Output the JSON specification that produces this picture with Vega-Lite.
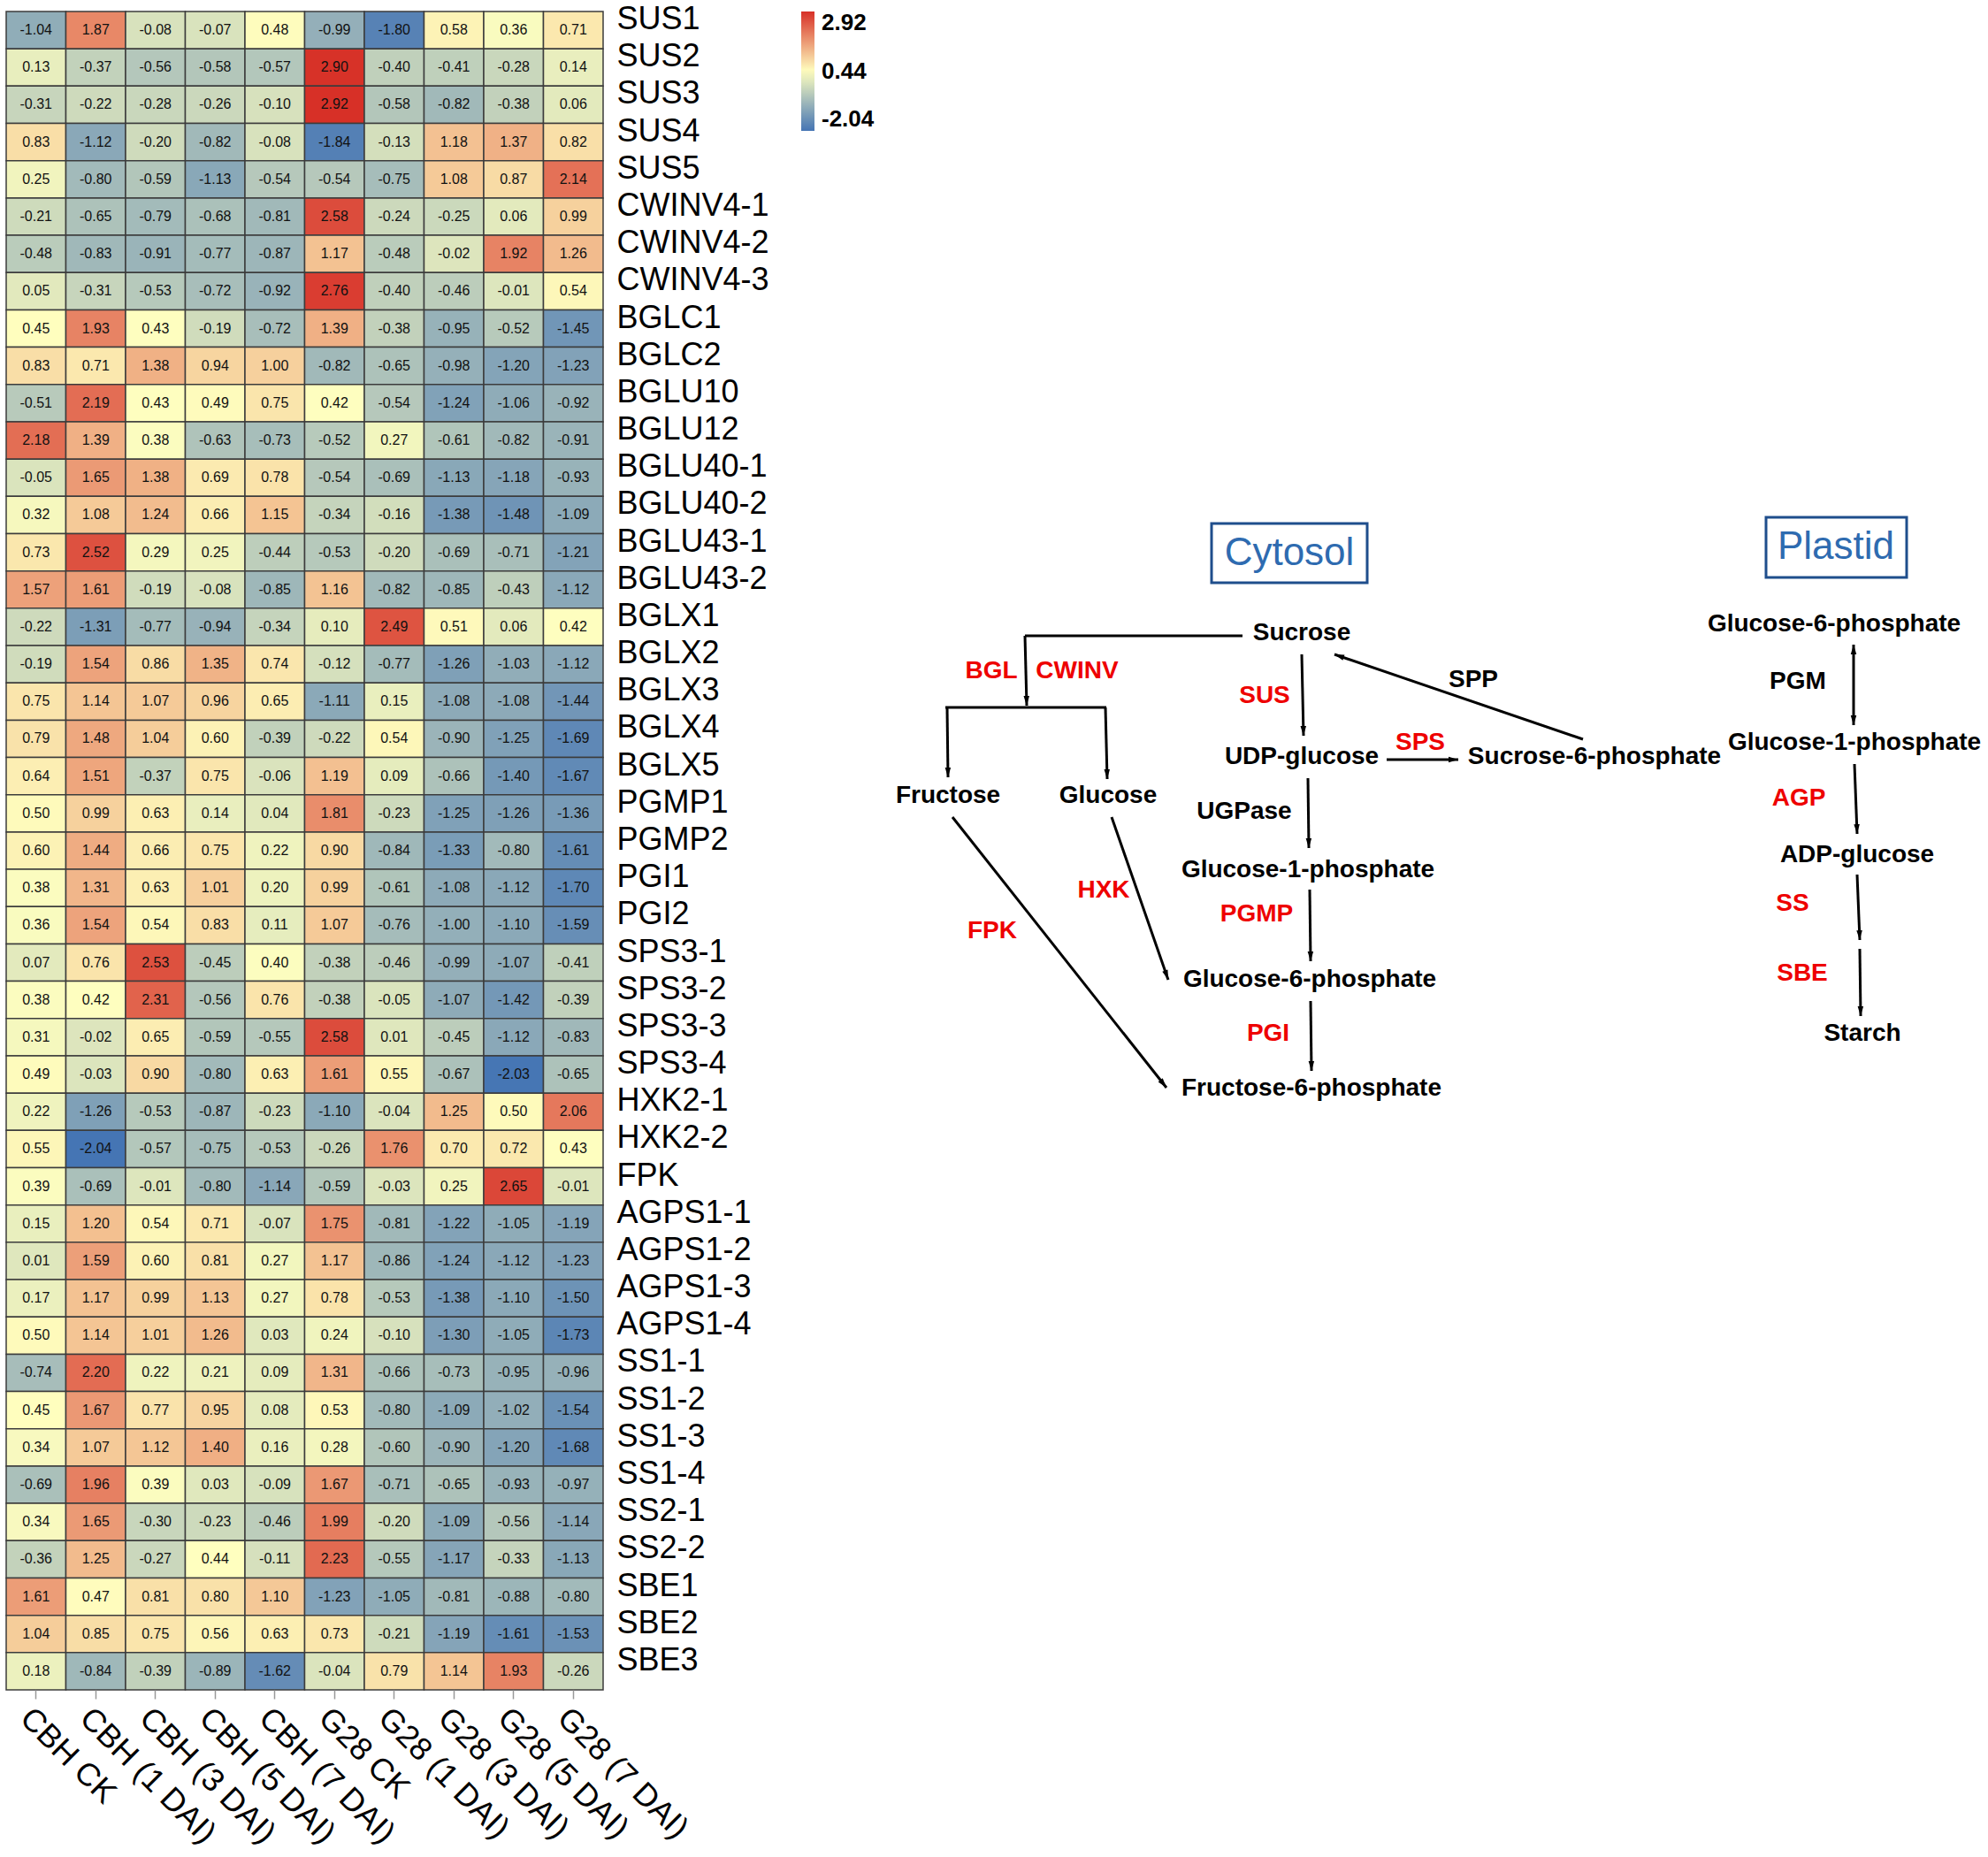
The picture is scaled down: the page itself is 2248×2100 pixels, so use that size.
{
"$schema": "https://vega.github.io/schema/vega-lite/v6.json",
"background": "white",
"padding": {"left": 6, "top": 3, "right": 0, "bottom": 0},
"bounds": "flush",
"spacing": 319,
"config": {"view": {"stroke": null}, "font": "Liberation Sans"},
"hconcat": [
{
"width": 675, "height": 1898,
"data": {"values": [
{"g":"SUS1","c":"CBH CK","v":-1.04},{"g":"SUS1","c":"CBH (1 DAI)","v":1.87},{"g":"SUS1","c":"CBH (3 DAI)","v":-0.08},{"g":"SUS1","c":"CBH (5 DAI)","v":-0.07},{"g":"SUS1","c":"CBH (7 DAI)","v":0.48},{"g":"SUS1","c":"G28 CK","v":-0.99},{"g":"SUS1","c":"G28 (1 DAI)","v":-1.80},{"g":"SUS1","c":"G28 (3 DAI)","v":0.58},{"g":"SUS1","c":"G28 (5 DAI)","v":0.36},{"g":"SUS1","c":"G28 (7 DAI)","v":0.71},
{"g":"SUS2","c":"CBH CK","v":0.13},{"g":"SUS2","c":"CBH (1 DAI)","v":-0.37},{"g":"SUS2","c":"CBH (3 DAI)","v":-0.56},{"g":"SUS2","c":"CBH (5 DAI)","v":-0.58},{"g":"SUS2","c":"CBH (7 DAI)","v":-0.57},{"g":"SUS2","c":"G28 CK","v":2.90},{"g":"SUS2","c":"G28 (1 DAI)","v":-0.40},{"g":"SUS2","c":"G28 (3 DAI)","v":-0.41},{"g":"SUS2","c":"G28 (5 DAI)","v":-0.28},{"g":"SUS2","c":"G28 (7 DAI)","v":0.14},
{"g":"SUS3","c":"CBH CK","v":-0.31},{"g":"SUS3","c":"CBH (1 DAI)","v":-0.22},{"g":"SUS3","c":"CBH (3 DAI)","v":-0.28},{"g":"SUS3","c":"CBH (5 DAI)","v":-0.26},{"g":"SUS3","c":"CBH (7 DAI)","v":-0.10},{"g":"SUS3","c":"G28 CK","v":2.92},{"g":"SUS3","c":"G28 (1 DAI)","v":-0.58},{"g":"SUS3","c":"G28 (3 DAI)","v":-0.82},{"g":"SUS3","c":"G28 (5 DAI)","v":-0.38},{"g":"SUS3","c":"G28 (7 DAI)","v":0.06},
{"g":"SUS4","c":"CBH CK","v":0.83},{"g":"SUS4","c":"CBH (1 DAI)","v":-1.12},{"g":"SUS4","c":"CBH (3 DAI)","v":-0.20},{"g":"SUS4","c":"CBH (5 DAI)","v":-0.82},{"g":"SUS4","c":"CBH (7 DAI)","v":-0.08},{"g":"SUS4","c":"G28 CK","v":-1.84},{"g":"SUS4","c":"G28 (1 DAI)","v":-0.13},{"g":"SUS4","c":"G28 (3 DAI)","v":1.18},{"g":"SUS4","c":"G28 (5 DAI)","v":1.37},{"g":"SUS4","c":"G28 (7 DAI)","v":0.82},
{"g":"SUS5","c":"CBH CK","v":0.25},{"g":"SUS5","c":"CBH (1 DAI)","v":-0.80},{"g":"SUS5","c":"CBH (3 DAI)","v":-0.59},{"g":"SUS5","c":"CBH (5 DAI)","v":-1.13},{"g":"SUS5","c":"CBH (7 DAI)","v":-0.54},{"g":"SUS5","c":"G28 CK","v":-0.54},{"g":"SUS5","c":"G28 (1 DAI)","v":-0.75},{"g":"SUS5","c":"G28 (3 DAI)","v":1.08},{"g":"SUS5","c":"G28 (5 DAI)","v":0.87},{"g":"SUS5","c":"G28 (7 DAI)","v":2.14},
{"g":"CWINV4-1","c":"CBH CK","v":-0.21},{"g":"CWINV4-1","c":"CBH (1 DAI)","v":-0.65},{"g":"CWINV4-1","c":"CBH (3 DAI)","v":-0.79},{"g":"CWINV4-1","c":"CBH (5 DAI)","v":-0.68},{"g":"CWINV4-1","c":"CBH (7 DAI)","v":-0.81},{"g":"CWINV4-1","c":"G28 CK","v":2.58},{"g":"CWINV4-1","c":"G28 (1 DAI)","v":-0.24},{"g":"CWINV4-1","c":"G28 (3 DAI)","v":-0.25},{"g":"CWINV4-1","c":"G28 (5 DAI)","v":0.06},{"g":"CWINV4-1","c":"G28 (7 DAI)","v":0.99},
{"g":"CWINV4-2","c":"CBH CK","v":-0.48},{"g":"CWINV4-2","c":"CBH (1 DAI)","v":-0.83},{"g":"CWINV4-2","c":"CBH (3 DAI)","v":-0.91},{"g":"CWINV4-2","c":"CBH (5 DAI)","v":-0.77},{"g":"CWINV4-2","c":"CBH (7 DAI)","v":-0.87},{"g":"CWINV4-2","c":"G28 CK","v":1.17},{"g":"CWINV4-2","c":"G28 (1 DAI)","v":-0.48},{"g":"CWINV4-2","c":"G28 (3 DAI)","v":-0.02},{"g":"CWINV4-2","c":"G28 (5 DAI)","v":1.92},{"g":"CWINV4-2","c":"G28 (7 DAI)","v":1.26},
{"g":"CWINV4-3","c":"CBH CK","v":0.05},{"g":"CWINV4-3","c":"CBH (1 DAI)","v":-0.31},{"g":"CWINV4-3","c":"CBH (3 DAI)","v":-0.53},{"g":"CWINV4-3","c":"CBH (5 DAI)","v":-0.72},{"g":"CWINV4-3","c":"CBH (7 DAI)","v":-0.92},{"g":"CWINV4-3","c":"G28 CK","v":2.76},{"g":"CWINV4-3","c":"G28 (1 DAI)","v":-0.40},{"g":"CWINV4-3","c":"G28 (3 DAI)","v":-0.46},{"g":"CWINV4-3","c":"G28 (5 DAI)","v":-0.01},{"g":"CWINV4-3","c":"G28 (7 DAI)","v":0.54},
{"g":"BGLC1","c":"CBH CK","v":0.45},{"g":"BGLC1","c":"CBH (1 DAI)","v":1.93},{"g":"BGLC1","c":"CBH (3 DAI)","v":0.43},{"g":"BGLC1","c":"CBH (5 DAI)","v":-0.19},{"g":"BGLC1","c":"CBH (7 DAI)","v":-0.72},{"g":"BGLC1","c":"G28 CK","v":1.39},{"g":"BGLC1","c":"G28 (1 DAI)","v":-0.38},{"g":"BGLC1","c":"G28 (3 DAI)","v":-0.95},{"g":"BGLC1","c":"G28 (5 DAI)","v":-0.52},{"g":"BGLC1","c":"G28 (7 DAI)","v":-1.45},
{"g":"BGLC2","c":"CBH CK","v":0.83},{"g":"BGLC2","c":"CBH (1 DAI)","v":0.71},{"g":"BGLC2","c":"CBH (3 DAI)","v":1.38},{"g":"BGLC2","c":"CBH (5 DAI)","v":0.94},{"g":"BGLC2","c":"CBH (7 DAI)","v":1.00},{"g":"BGLC2","c":"G28 CK","v":-0.82},{"g":"BGLC2","c":"G28 (1 DAI)","v":-0.65},{"g":"BGLC2","c":"G28 (3 DAI)","v":-0.98},{"g":"BGLC2","c":"G28 (5 DAI)","v":-1.20},{"g":"BGLC2","c":"G28 (7 DAI)","v":-1.23},
{"g":"BGLU10","c":"CBH CK","v":-0.51},{"g":"BGLU10","c":"CBH (1 DAI)","v":2.19},{"g":"BGLU10","c":"CBH (3 DAI)","v":0.43},{"g":"BGLU10","c":"CBH (5 DAI)","v":0.49},{"g":"BGLU10","c":"CBH (7 DAI)","v":0.75},{"g":"BGLU10","c":"G28 CK","v":0.42},{"g":"BGLU10","c":"G28 (1 DAI)","v":-0.54},{"g":"BGLU10","c":"G28 (3 DAI)","v":-1.24},{"g":"BGLU10","c":"G28 (5 DAI)","v":-1.06},{"g":"BGLU10","c":"G28 (7 DAI)","v":-0.92},
{"g":"BGLU12","c":"CBH CK","v":2.18},{"g":"BGLU12","c":"CBH (1 DAI)","v":1.39},{"g":"BGLU12","c":"CBH (3 DAI)","v":0.38},{"g":"BGLU12","c":"CBH (5 DAI)","v":-0.63},{"g":"BGLU12","c":"CBH (7 DAI)","v":-0.73},{"g":"BGLU12","c":"G28 CK","v":-0.52},{"g":"BGLU12","c":"G28 (1 DAI)","v":0.27},{"g":"BGLU12","c":"G28 (3 DAI)","v":-0.61},{"g":"BGLU12","c":"G28 (5 DAI)","v":-0.82},{"g":"BGLU12","c":"G28 (7 DAI)","v":-0.91},
{"g":"BGLU40-1","c":"CBH CK","v":-0.05},{"g":"BGLU40-1","c":"CBH (1 DAI)","v":1.65},{"g":"BGLU40-1","c":"CBH (3 DAI)","v":1.38},{"g":"BGLU40-1","c":"CBH (5 DAI)","v":0.69},{"g":"BGLU40-1","c":"CBH (7 DAI)","v":0.78},{"g":"BGLU40-1","c":"G28 CK","v":-0.54},{"g":"BGLU40-1","c":"G28 (1 DAI)","v":-0.69},{"g":"BGLU40-1","c":"G28 (3 DAI)","v":-1.13},{"g":"BGLU40-1","c":"G28 (5 DAI)","v":-1.18},{"g":"BGLU40-1","c":"G28 (7 DAI)","v":-0.93},
{"g":"BGLU40-2","c":"CBH CK","v":0.32},{"g":"BGLU40-2","c":"CBH (1 DAI)","v":1.08},{"g":"BGLU40-2","c":"CBH (3 DAI)","v":1.24},{"g":"BGLU40-2","c":"CBH (5 DAI)","v":0.66},{"g":"BGLU40-2","c":"CBH (7 DAI)","v":1.15},{"g":"BGLU40-2","c":"G28 CK","v":-0.34},{"g":"BGLU40-2","c":"G28 (1 DAI)","v":-0.16},{"g":"BGLU40-2","c":"G28 (3 DAI)","v":-1.38},{"g":"BGLU40-2","c":"G28 (5 DAI)","v":-1.48},{"g":"BGLU40-2","c":"G28 (7 DAI)","v":-1.09},
{"g":"BGLU43-1","c":"CBH CK","v":0.73},{"g":"BGLU43-1","c":"CBH (1 DAI)","v":2.52},{"g":"BGLU43-1","c":"CBH (3 DAI)","v":0.29},{"g":"BGLU43-1","c":"CBH (5 DAI)","v":0.25},{"g":"BGLU43-1","c":"CBH (7 DAI)","v":-0.44},{"g":"BGLU43-1","c":"G28 CK","v":-0.53},{"g":"BGLU43-1","c":"G28 (1 DAI)","v":-0.20},{"g":"BGLU43-1","c":"G28 (3 DAI)","v":-0.69},{"g":"BGLU43-1","c":"G28 (5 DAI)","v":-0.71},{"g":"BGLU43-1","c":"G28 (7 DAI)","v":-1.21},
{"g":"BGLU43-2","c":"CBH CK","v":1.57},{"g":"BGLU43-2","c":"CBH (1 DAI)","v":1.61},{"g":"BGLU43-2","c":"CBH (3 DAI)","v":-0.19},{"g":"BGLU43-2","c":"CBH (5 DAI)","v":-0.08},{"g":"BGLU43-2","c":"CBH (7 DAI)","v":-0.85},{"g":"BGLU43-2","c":"G28 CK","v":1.16},{"g":"BGLU43-2","c":"G28 (1 DAI)","v":-0.82},{"g":"BGLU43-2","c":"G28 (3 DAI)","v":-0.85},{"g":"BGLU43-2","c":"G28 (5 DAI)","v":-0.43},{"g":"BGLU43-2","c":"G28 (7 DAI)","v":-1.12},
{"g":"BGLX1","c":"CBH CK","v":-0.22},{"g":"BGLX1","c":"CBH (1 DAI)","v":-1.31},{"g":"BGLX1","c":"CBH (3 DAI)","v":-0.77},{"g":"BGLX1","c":"CBH (5 DAI)","v":-0.94},{"g":"BGLX1","c":"CBH (7 DAI)","v":-0.34},{"g":"BGLX1","c":"G28 CK","v":0.10},{"g":"BGLX1","c":"G28 (1 DAI)","v":2.49},{"g":"BGLX1","c":"G28 (3 DAI)","v":0.51},{"g":"BGLX1","c":"G28 (5 DAI)","v":0.06},{"g":"BGLX1","c":"G28 (7 DAI)","v":0.42},
{"g":"BGLX2","c":"CBH CK","v":-0.19},{"g":"BGLX2","c":"CBH (1 DAI)","v":1.54},{"g":"BGLX2","c":"CBH (3 DAI)","v":0.86},{"g":"BGLX2","c":"CBH (5 DAI)","v":1.35},{"g":"BGLX2","c":"CBH (7 DAI)","v":0.74},{"g":"BGLX2","c":"G28 CK","v":-0.12},{"g":"BGLX2","c":"G28 (1 DAI)","v":-0.77},{"g":"BGLX2","c":"G28 (3 DAI)","v":-1.26},{"g":"BGLX2","c":"G28 (5 DAI)","v":-1.03},{"g":"BGLX2","c":"G28 (7 DAI)","v":-1.12},
{"g":"BGLX3","c":"CBH CK","v":0.75},{"g":"BGLX3","c":"CBH (1 DAI)","v":1.14},{"g":"BGLX3","c":"CBH (3 DAI)","v":1.07},{"g":"BGLX3","c":"CBH (5 DAI)","v":0.96},{"g":"BGLX3","c":"CBH (7 DAI)","v":0.65},{"g":"BGLX3","c":"G28 CK","v":-1.11},{"g":"BGLX3","c":"G28 (1 DAI)","v":0.15},{"g":"BGLX3","c":"G28 (3 DAI)","v":-1.08},{"g":"BGLX3","c":"G28 (5 DAI)","v":-1.08},{"g":"BGLX3","c":"G28 (7 DAI)","v":-1.44},
{"g":"BGLX4","c":"CBH CK","v":0.79},{"g":"BGLX4","c":"CBH (1 DAI)","v":1.48},{"g":"BGLX4","c":"CBH (3 DAI)","v":1.04},{"g":"BGLX4","c":"CBH (5 DAI)","v":0.60},{"g":"BGLX4","c":"CBH (7 DAI)","v":-0.39},{"g":"BGLX4","c":"G28 CK","v":-0.22},{"g":"BGLX4","c":"G28 (1 DAI)","v":0.54},{"g":"BGLX4","c":"G28 (3 DAI)","v":-0.90},{"g":"BGLX4","c":"G28 (5 DAI)","v":-1.25},{"g":"BGLX4","c":"G28 (7 DAI)","v":-1.69},
{"g":"BGLX5","c":"CBH CK","v":0.64},{"g":"BGLX5","c":"CBH (1 DAI)","v":1.51},{"g":"BGLX5","c":"CBH (3 DAI)","v":-0.37},{"g":"BGLX5","c":"CBH (5 DAI)","v":0.75},{"g":"BGLX5","c":"CBH (7 DAI)","v":-0.06},{"g":"BGLX5","c":"G28 CK","v":1.19},{"g":"BGLX5","c":"G28 (1 DAI)","v":0.09},{"g":"BGLX5","c":"G28 (3 DAI)","v":-0.66},{"g":"BGLX5","c":"G28 (5 DAI)","v":-1.40},{"g":"BGLX5","c":"G28 (7 DAI)","v":-1.67},
{"g":"PGMP1","c":"CBH CK","v":0.50},{"g":"PGMP1","c":"CBH (1 DAI)","v":0.99},{"g":"PGMP1","c":"CBH (3 DAI)","v":0.63},{"g":"PGMP1","c":"CBH (5 DAI)","v":0.14},{"g":"PGMP1","c":"CBH (7 DAI)","v":0.04},{"g":"PGMP1","c":"G28 CK","v":1.81},{"g":"PGMP1","c":"G28 (1 DAI)","v":-0.23},{"g":"PGMP1","c":"G28 (3 DAI)","v":-1.25},{"g":"PGMP1","c":"G28 (5 DAI)","v":-1.26},{"g":"PGMP1","c":"G28 (7 DAI)","v":-1.36},
{"g":"PGMP2","c":"CBH CK","v":0.60},{"g":"PGMP2","c":"CBH (1 DAI)","v":1.44},{"g":"PGMP2","c":"CBH (3 DAI)","v":0.66},{"g":"PGMP2","c":"CBH (5 DAI)","v":0.75},{"g":"PGMP2","c":"CBH (7 DAI)","v":0.22},{"g":"PGMP2","c":"G28 CK","v":0.90},{"g":"PGMP2","c":"G28 (1 DAI)","v":-0.84},{"g":"PGMP2","c":"G28 (3 DAI)","v":-1.33},{"g":"PGMP2","c":"G28 (5 DAI)","v":-0.80},{"g":"PGMP2","c":"G28 (7 DAI)","v":-1.61},
{"g":"PGI1","c":"CBH CK","v":0.38},{"g":"PGI1","c":"CBH (1 DAI)","v":1.31},{"g":"PGI1","c":"CBH (3 DAI)","v":0.63},{"g":"PGI1","c":"CBH (5 DAI)","v":1.01},{"g":"PGI1","c":"CBH (7 DAI)","v":0.20},{"g":"PGI1","c":"G28 CK","v":0.99},{"g":"PGI1","c":"G28 (1 DAI)","v":-0.61},{"g":"PGI1","c":"G28 (3 DAI)","v":-1.08},{"g":"PGI1","c":"G28 (5 DAI)","v":-1.12},{"g":"PGI1","c":"G28 (7 DAI)","v":-1.70},
{"g":"PGI2","c":"CBH CK","v":0.36},{"g":"PGI2","c":"CBH (1 DAI)","v":1.54},{"g":"PGI2","c":"CBH (3 DAI)","v":0.54},{"g":"PGI2","c":"CBH (5 DAI)","v":0.83},{"g":"PGI2","c":"CBH (7 DAI)","v":0.11},{"g":"PGI2","c":"G28 CK","v":1.07},{"g":"PGI2","c":"G28 (1 DAI)","v":-0.76},{"g":"PGI2","c":"G28 (3 DAI)","v":-1.00},{"g":"PGI2","c":"G28 (5 DAI)","v":-1.10},{"g":"PGI2","c":"G28 (7 DAI)","v":-1.59},
{"g":"SPS3-1","c":"CBH CK","v":0.07},{"g":"SPS3-1","c":"CBH (1 DAI)","v":0.76},{"g":"SPS3-1","c":"CBH (3 DAI)","v":2.53},{"g":"SPS3-1","c":"CBH (5 DAI)","v":-0.45},{"g":"SPS3-1","c":"CBH (7 DAI)","v":0.40},{"g":"SPS3-1","c":"G28 CK","v":-0.38},{"g":"SPS3-1","c":"G28 (1 DAI)","v":-0.46},{"g":"SPS3-1","c":"G28 (3 DAI)","v":-0.99},{"g":"SPS3-1","c":"G28 (5 DAI)","v":-1.07},{"g":"SPS3-1","c":"G28 (7 DAI)","v":-0.41},
{"g":"SPS3-2","c":"CBH CK","v":0.38},{"g":"SPS3-2","c":"CBH (1 DAI)","v":0.42},{"g":"SPS3-2","c":"CBH (3 DAI)","v":2.31},{"g":"SPS3-2","c":"CBH (5 DAI)","v":-0.56},{"g":"SPS3-2","c":"CBH (7 DAI)","v":0.76},{"g":"SPS3-2","c":"G28 CK","v":-0.38},{"g":"SPS3-2","c":"G28 (1 DAI)","v":-0.05},{"g":"SPS3-2","c":"G28 (3 DAI)","v":-1.07},{"g":"SPS3-2","c":"G28 (5 DAI)","v":-1.42},{"g":"SPS3-2","c":"G28 (7 DAI)","v":-0.39},
{"g":"SPS3-3","c":"CBH CK","v":0.31},{"g":"SPS3-3","c":"CBH (1 DAI)","v":-0.02},{"g":"SPS3-3","c":"CBH (3 DAI)","v":0.65},{"g":"SPS3-3","c":"CBH (5 DAI)","v":-0.59},{"g":"SPS3-3","c":"CBH (7 DAI)","v":-0.55},{"g":"SPS3-3","c":"G28 CK","v":2.58},{"g":"SPS3-3","c":"G28 (1 DAI)","v":0.01},{"g":"SPS3-3","c":"G28 (3 DAI)","v":-0.45},{"g":"SPS3-3","c":"G28 (5 DAI)","v":-1.12},{"g":"SPS3-3","c":"G28 (7 DAI)","v":-0.83},
{"g":"SPS3-4","c":"CBH CK","v":0.49},{"g":"SPS3-4","c":"CBH (1 DAI)","v":-0.03},{"g":"SPS3-4","c":"CBH (3 DAI)","v":0.90},{"g":"SPS3-4","c":"CBH (5 DAI)","v":-0.80},{"g":"SPS3-4","c":"CBH (7 DAI)","v":0.63},{"g":"SPS3-4","c":"G28 CK","v":1.61},{"g":"SPS3-4","c":"G28 (1 DAI)","v":0.55},{"g":"SPS3-4","c":"G28 (3 DAI)","v":-0.67},{"g":"SPS3-4","c":"G28 (5 DAI)","v":-2.03},{"g":"SPS3-4","c":"G28 (7 DAI)","v":-0.65},
{"g":"HXK2-1","c":"CBH CK","v":0.22},{"g":"HXK2-1","c":"CBH (1 DAI)","v":-1.26},{"g":"HXK2-1","c":"CBH (3 DAI)","v":-0.53},{"g":"HXK2-1","c":"CBH (5 DAI)","v":-0.87},{"g":"HXK2-1","c":"CBH (7 DAI)","v":-0.23},{"g":"HXK2-1","c":"G28 CK","v":-1.10},{"g":"HXK2-1","c":"G28 (1 DAI)","v":-0.04},{"g":"HXK2-1","c":"G28 (3 DAI)","v":1.25},{"g":"HXK2-1","c":"G28 (5 DAI)","v":0.50},{"g":"HXK2-1","c":"G28 (7 DAI)","v":2.06},
{"g":"HXK2-2","c":"CBH CK","v":0.55},{"g":"HXK2-2","c":"CBH (1 DAI)","v":-2.04},{"g":"HXK2-2","c":"CBH (3 DAI)","v":-0.57},{"g":"HXK2-2","c":"CBH (5 DAI)","v":-0.75},{"g":"HXK2-2","c":"CBH (7 DAI)","v":-0.53},{"g":"HXK2-2","c":"G28 CK","v":-0.26},{"g":"HXK2-2","c":"G28 (1 DAI)","v":1.76},{"g":"HXK2-2","c":"G28 (3 DAI)","v":0.70},{"g":"HXK2-2","c":"G28 (5 DAI)","v":0.72},{"g":"HXK2-2","c":"G28 (7 DAI)","v":0.43},
{"g":"FPK","c":"CBH CK","v":0.39},{"g":"FPK","c":"CBH (1 DAI)","v":-0.69},{"g":"FPK","c":"CBH (3 DAI)","v":-0.01},{"g":"FPK","c":"CBH (5 DAI)","v":-0.80},{"g":"FPK","c":"CBH (7 DAI)","v":-1.14},{"g":"FPK","c":"G28 CK","v":-0.59},{"g":"FPK","c":"G28 (1 DAI)","v":-0.03},{"g":"FPK","c":"G28 (3 DAI)","v":0.25},{"g":"FPK","c":"G28 (5 DAI)","v":2.65},{"g":"FPK","c":"G28 (7 DAI)","v":-0.01},
{"g":"AGPS1-1","c":"CBH CK","v":0.15},{"g":"AGPS1-1","c":"CBH (1 DAI)","v":1.20},{"g":"AGPS1-1","c":"CBH (3 DAI)","v":0.54},{"g":"AGPS1-1","c":"CBH (5 DAI)","v":0.71},{"g":"AGPS1-1","c":"CBH (7 DAI)","v":-0.07},{"g":"AGPS1-1","c":"G28 CK","v":1.75},{"g":"AGPS1-1","c":"G28 (1 DAI)","v":-0.81},{"g":"AGPS1-1","c":"G28 (3 DAI)","v":-1.22},{"g":"AGPS1-1","c":"G28 (5 DAI)","v":-1.05},{"g":"AGPS1-1","c":"G28 (7 DAI)","v":-1.19},
{"g":"AGPS1-2","c":"CBH CK","v":0.01},{"g":"AGPS1-2","c":"CBH (1 DAI)","v":1.59},{"g":"AGPS1-2","c":"CBH (3 DAI)","v":0.60},{"g":"AGPS1-2","c":"CBH (5 DAI)","v":0.81},{"g":"AGPS1-2","c":"CBH (7 DAI)","v":0.27},{"g":"AGPS1-2","c":"G28 CK","v":1.17},{"g":"AGPS1-2","c":"G28 (1 DAI)","v":-0.86},{"g":"AGPS1-2","c":"G28 (3 DAI)","v":-1.24},{"g":"AGPS1-2","c":"G28 (5 DAI)","v":-1.12},{"g":"AGPS1-2","c":"G28 (7 DAI)","v":-1.23},
{"g":"AGPS1-3","c":"CBH CK","v":0.17},{"g":"AGPS1-3","c":"CBH (1 DAI)","v":1.17},{"g":"AGPS1-3","c":"CBH (3 DAI)","v":0.99},{"g":"AGPS1-3","c":"CBH (5 DAI)","v":1.13},{"g":"AGPS1-3","c":"CBH (7 DAI)","v":0.27},{"g":"AGPS1-3","c":"G28 CK","v":0.78},{"g":"AGPS1-3","c":"G28 (1 DAI)","v":-0.53},{"g":"AGPS1-3","c":"G28 (3 DAI)","v":-1.38},{"g":"AGPS1-3","c":"G28 (5 DAI)","v":-1.10},{"g":"AGPS1-3","c":"G28 (7 DAI)","v":-1.50},
{"g":"AGPS1-4","c":"CBH CK","v":0.50},{"g":"AGPS1-4","c":"CBH (1 DAI)","v":1.14},{"g":"AGPS1-4","c":"CBH (3 DAI)","v":1.01},{"g":"AGPS1-4","c":"CBH (5 DAI)","v":1.26},{"g":"AGPS1-4","c":"CBH (7 DAI)","v":0.03},{"g":"AGPS1-4","c":"G28 CK","v":0.24},{"g":"AGPS1-4","c":"G28 (1 DAI)","v":-0.10},{"g":"AGPS1-4","c":"G28 (3 DAI)","v":-1.30},{"g":"AGPS1-4","c":"G28 (5 DAI)","v":-1.05},{"g":"AGPS1-4","c":"G28 (7 DAI)","v":-1.73},
{"g":"SS1-1","c":"CBH CK","v":-0.74},{"g":"SS1-1","c":"CBH (1 DAI)","v":2.20},{"g":"SS1-1","c":"CBH (3 DAI)","v":0.22},{"g":"SS1-1","c":"CBH (5 DAI)","v":0.21},{"g":"SS1-1","c":"CBH (7 DAI)","v":0.09},{"g":"SS1-1","c":"G28 CK","v":1.31},{"g":"SS1-1","c":"G28 (1 DAI)","v":-0.66},{"g":"SS1-1","c":"G28 (3 DAI)","v":-0.73},{"g":"SS1-1","c":"G28 (5 DAI)","v":-0.95},{"g":"SS1-1","c":"G28 (7 DAI)","v":-0.96},
{"g":"SS1-2","c":"CBH CK","v":0.45},{"g":"SS1-2","c":"CBH (1 DAI)","v":1.67},{"g":"SS1-2","c":"CBH (3 DAI)","v":0.77},{"g":"SS1-2","c":"CBH (5 DAI)","v":0.95},{"g":"SS1-2","c":"CBH (7 DAI)","v":0.08},{"g":"SS1-2","c":"G28 CK","v":0.53},{"g":"SS1-2","c":"G28 (1 DAI)","v":-0.80},{"g":"SS1-2","c":"G28 (3 DAI)","v":-1.09},{"g":"SS1-2","c":"G28 (5 DAI)","v":-1.02},{"g":"SS1-2","c":"G28 (7 DAI)","v":-1.54},
{"g":"SS1-3","c":"CBH CK","v":0.34},{"g":"SS1-3","c":"CBH (1 DAI)","v":1.07},{"g":"SS1-3","c":"CBH (3 DAI)","v":1.12},{"g":"SS1-3","c":"CBH (5 DAI)","v":1.40},{"g":"SS1-3","c":"CBH (7 DAI)","v":0.16},{"g":"SS1-3","c":"G28 CK","v":0.28},{"g":"SS1-3","c":"G28 (1 DAI)","v":-0.60},{"g":"SS1-3","c":"G28 (3 DAI)","v":-0.90},{"g":"SS1-3","c":"G28 (5 DAI)","v":-1.20},{"g":"SS1-3","c":"G28 (7 DAI)","v":-1.68},
{"g":"SS1-4","c":"CBH CK","v":-0.69},{"g":"SS1-4","c":"CBH (1 DAI)","v":1.96},{"g":"SS1-4","c":"CBH (3 DAI)","v":0.39},{"g":"SS1-4","c":"CBH (5 DAI)","v":0.03},{"g":"SS1-4","c":"CBH (7 DAI)","v":-0.09},{"g":"SS1-4","c":"G28 CK","v":1.67},{"g":"SS1-4","c":"G28 (1 DAI)","v":-0.71},{"g":"SS1-4","c":"G28 (3 DAI)","v":-0.65},{"g":"SS1-4","c":"G28 (5 DAI)","v":-0.93},{"g":"SS1-4","c":"G28 (7 DAI)","v":-0.97},
{"g":"SS2-1","c":"CBH CK","v":0.34},{"g":"SS2-1","c":"CBH (1 DAI)","v":1.65},{"g":"SS2-1","c":"CBH (3 DAI)","v":-0.30},{"g":"SS2-1","c":"CBH (5 DAI)","v":-0.23},{"g":"SS2-1","c":"CBH (7 DAI)","v":-0.46},{"g":"SS2-1","c":"G28 CK","v":1.99},{"g":"SS2-1","c":"G28 (1 DAI)","v":-0.20},{"g":"SS2-1","c":"G28 (3 DAI)","v":-1.09},{"g":"SS2-1","c":"G28 (5 DAI)","v":-0.56},{"g":"SS2-1","c":"G28 (7 DAI)","v":-1.14},
{"g":"SS2-2","c":"CBH CK","v":-0.36},{"g":"SS2-2","c":"CBH (1 DAI)","v":1.25},{"g":"SS2-2","c":"CBH (3 DAI)","v":-0.27},{"g":"SS2-2","c":"CBH (5 DAI)","v":0.44},{"g":"SS2-2","c":"CBH (7 DAI)","v":-0.11},{"g":"SS2-2","c":"G28 CK","v":2.23},{"g":"SS2-2","c":"G28 (1 DAI)","v":-0.55},{"g":"SS2-2","c":"G28 (3 DAI)","v":-1.17},{"g":"SS2-2","c":"G28 (5 DAI)","v":-0.33},{"g":"SS2-2","c":"G28 (7 DAI)","v":-1.13},
{"g":"SBE1","c":"CBH CK","v":1.61},{"g":"SBE1","c":"CBH (1 DAI)","v":0.47},{"g":"SBE1","c":"CBH (3 DAI)","v":0.81},{"g":"SBE1","c":"CBH (5 DAI)","v":0.80},{"g":"SBE1","c":"CBH (7 DAI)","v":1.10},{"g":"SBE1","c":"G28 CK","v":-1.23},{"g":"SBE1","c":"G28 (1 DAI)","v":-1.05},{"g":"SBE1","c":"G28 (3 DAI)","v":-0.81},{"g":"SBE1","c":"G28 (5 DAI)","v":-0.88},{"g":"SBE1","c":"G28 (7 DAI)","v":-0.80},
{"g":"SBE2","c":"CBH CK","v":1.04},{"g":"SBE2","c":"CBH (1 DAI)","v":0.85},{"g":"SBE2","c":"CBH (3 DAI)","v":0.75},{"g":"SBE2","c":"CBH (5 DAI)","v":0.56},{"g":"SBE2","c":"CBH (7 DAI)","v":0.63},{"g":"SBE2","c":"G28 CK","v":0.73},{"g":"SBE2","c":"G28 (1 DAI)","v":-0.21},{"g":"SBE2","c":"G28 (3 DAI)","v":-1.19},{"g":"SBE2","c":"G28 (5 DAI)","v":-1.61},{"g":"SBE2","c":"G28 (7 DAI)","v":-1.53},
{"g":"SBE3","c":"CBH CK","v":0.18},{"g":"SBE3","c":"CBH (1 DAI)","v":-0.84},{"g":"SBE3","c":"CBH (3 DAI)","v":-0.39},{"g":"SBE3","c":"CBH (5 DAI)","v":-0.89},{"g":"SBE3","c":"CBH (7 DAI)","v":-1.62},{"g":"SBE3","c":"G28 CK","v":-0.04},{"g":"SBE3","c":"G28 (1 DAI)","v":0.79},{"g":"SBE3","c":"G28 (3 DAI)","v":1.14},{"g":"SBE3","c":"G28 (5 DAI)","v":1.93},{"g":"SBE3","c":"G28 (7 DAI)","v":-0.26}
]},
"transform": [{"calculate": "replace(format(datum.v, '.2f'), '\u2212', '-')", "as": "t"}],
"encoding": {
  "x": {"field": "c", "type": "nominal", "sort": null, "scale": {"paddingInner": 0, "paddingOuter": 0},
        "axis": {"title": null, "orient": "bottom", "labelAngle": 45, "labelAlign": "left", "labelBaseline": "top", "labelFontSize": 36, "labelColor": "#000", "labelPadding": 4, "labelLimit": 0, "domain": false, "ticks": true, "tickSize": 10, "tickColor": "#999999", "tickWidth": 1.5}},
  "y": {"field": "g", "type": "nominal", "sort": null, "scale": {"paddingInner": 0, "paddingOuter": 0},
        "axis": {"title": null, "orient": "right", "labelFontSize": 36, "labelColor": "#000", "labelPadding": 15, "labelOffset": -12, "labelLimit": 0, "domain": false, "ticks": false}}
},
"layer": [
  {"mark": {"type": "rect", "stroke": "#3c3c3c", "strokeWidth": 1.5},
   "encoding": {"color": {"field": "v", "type": "quantitative",
      "scale": {"type": "linear", "domain": [-2.04, 0.44, 2.92], "range": ["#4575b4", "#ffffbf", "#d73027"], "interpolate": "rgb"},
      "legend": {"title": null, "orient": "right", "offset": 36, "direction": "vertical", "gradientLength": 135, "gradientThickness": 15, "gradientStrokeWidth": 0, "values": [-2.04, 0.44, 2.92], "labelFontSize": 26, "labelFontWeight": "bold", "labelColor": "#000", "labelOffset": 8, "format": ".2f", "labelExpr": "replace(datum.label, '\u2212', '-')"}}}},
  {"mark": {"type": "text", "fontSize": 16, "color": "#111111"},
   "encoding": {"text": {"field": "t", "type": "nominal"}}}
]
},
{
"width": 1248, "height": 1898,
"layer": [
  {"data": {"values": [
     {"x": 1369, "x2": 1545, "y": 591, "y2": 658},
     {"x": 1996, "x2": 2155, "y": 584, "y2": 652}]},
   "mark": {"type": "rect", "fillOpacity": 0, "stroke": "#1f4e8c", "strokeWidth": 3},
   "encoding": {
     "x": {"field": "x", "type": "quantitative", "scale": {"domain": [1000, 2248], "nice": false, "zero": false}, "axis": null},
     "x2": {"field": "x2"},
     "y": {"field": "y", "type": "quantitative", "scale": {"domain": [12, 1910], "reverse": true, "nice": false, "zero": false}, "axis": null},
     "y2": {"field": "y2"}}},
  {"data": {"name": "edges", "values": [
     {"x": 1404, "y": 718, "x2": 1158, "y2": 718, "h": 0},
     {"x": 1158, "y": 718, "x2": 1160, "y2": 797, "h": 1},
     {"x": 1068, "y": 799, "x2": 1250, "y2": 799, "h": 0},
     {"x": 1070, "y": 799, "x2": 1071, "y2": 878, "h": 1},
     {"x": 1249, "y": 799, "x2": 1251, "y2": 880, "h": 1},
     {"x": 1471, "y": 739, "x2": 1473, "y2": 831, "h": 1},
     {"x": 1567, "y": 858, "x2": 1648, "y2": 858, "h": 1},
     {"x": 1789, "y": 835, "x2": 1508, "y2": 739, "h": 1},
     {"x": 1478, "y": 879, "x2": 1479, "y2": 958, "h": 1},
     {"x": 1480, "y": 1005, "x2": 1481, "y2": 1086, "h": 1},
     {"x": 1481, "y": 1131, "x2": 1482, "y2": 1210, "h": 1},
     {"x": 1256, "y": 923, "x2": 1320, "y2": 1107, "h": 1},
     {"x": 1076, "y": 923, "x2": 1318, "y2": 1229, "h": 1},
     {"x": 2095, "y": 774, "x2": 2095, "y2": 728, "h": 1},
     {"x": 2095, "y": 774, "x2": 2095, "y2": 819, "h": 1},
     {"x": 2096, "y": 863, "x2": 2099, "y2": 942, "h": 1},
     {"x": 2099, "y": 988, "x2": 2102, "y2": 1062, "h": 1},
     {"x": 2102, "y": 1072, "x2": 2103, "y2": 1148, "h": 1}]},
   "layer": [
     {"mark": {"type": "rule", "color": "#000000", "strokeWidth": 3},
      "encoding": {
        "x": {"field": "x", "type": "quantitative", "axis": null},
        "x2": {"field": "x2"},
        "y": {"field": "y", "type": "quantitative", "axis": null},
        "y2": {"field": "y2"}}},
     {"transform": [{"filter": "datum.h == 1"},
                    {"calculate": "atan2(datum.x2 - datum.x, datum.y - datum.y2) * 180 / PI", "as": "a"}],
      "mark": {"type": "point", "shape": "M0,0L0.65,2.2L-0.65,2.2Z", "filled": true, "color": "#000000", "size": 100, "opacity": 1},
      "encoding": {
        "x": {"field": "x2", "type": "quantitative", "axis": null},
        "y": {"field": "y2", "type": "quantitative", "axis": null},
        "angle": {"field": "a", "type": "quantitative", "scale": null}}}
   ]},
  {"data": {"values": [
     {"x": 1457, "y": 625, "t": "Cytosol"},
     {"x": 2075, "y": 618, "t": "Plastid"}]},
   "mark": {"type": "text", "fontSize": 44, "color": "#2e6bb0", "align": "center", "baseline": "middle"},
   "encoding": {
     "x": {"field": "x", "type": "quantitative", "axis": null},
     "y": {"field": "y", "type": "quantitative", "axis": null},
     "text": {"field": "t", "type": "nominal"}}},
  {"data": {"values": [
     {"x": 1471, "y": 715, "t": "Sucrose", "k": "m"},
     {"x": 1120, "y": 758, "t": "BGL", "k": "e"},
     {"x": 1217, "y": 758, "t": "CWINV", "k": "e"},
     {"x": 1429, "y": 786, "t": "SUS", "k": "e"},
     {"x": 1665, "y": 768, "t": "SPP", "k": "m"},
     {"x": 1071, "y": 899, "t": "Fructose", "k": "m"},
     {"x": 1252, "y": 899, "t": "Glucose", "k": "m"},
     {"x": 1471, "y": 855, "t": "UDP-glucose", "k": "m"},
     {"x": 1605, "y": 839, "t": "SPS", "k": "e"},
     {"x": 1802, "y": 855, "t": "Sucrose-6-phosphate", "k": "m"},
     {"x": 1406, "y": 917, "t": "UGPase", "k": "m"},
     {"x": 1478, "y": 983, "t": "Glucose-1-phosphate", "k": "m"},
     {"x": 1247, "y": 1006, "t": "HXK", "k": "e"},
     {"x": 1420, "y": 1033, "t": "PGMP", "k": "e"},
     {"x": 1121, "y": 1052, "t": "FPK", "k": "e"},
     {"x": 1480, "y": 1107, "t": "Glucose-6-phosphate", "k": "m"},
     {"x": 1433, "y": 1168, "t": "PGI", "k": "e"},
     {"x": 1482, "y": 1230, "t": "Fructose-6-phosphate", "k": "m"},
     {"x": 2073, "y": 705, "t": "Glucose-6-phosphate", "k": "m"},
     {"x": 2032, "y": 770, "t": "PGM", "k": "m"},
     {"x": 2096, "y": 839, "t": "Glucose-1-phosphate", "k": "m"},
     {"x": 2033, "y": 902, "t": "AGP", "k": "e"},
     {"x": 2099, "y": 966, "t": "ADP-glucose", "k": "m"},
     {"x": 2026, "y": 1021, "t": "SS", "k": "e"},
     {"x": 2037, "y": 1100, "t": "SBE", "k": "e"},
     {"x": 2105, "y": 1168, "t": "Starch", "k": "m"}]},
   "mark": {"type": "text", "fontSize": 28, "fontWeight": "bold", "align": "center", "baseline": "middle"},
   "encoding": {
     "x": {"field": "x", "type": "quantitative", "axis": null},
     "y": {"field": "y", "type": "quantitative", "axis": null},
     "text": {"field": "t", "type": "nominal"},
     "color": {"field": "k", "type": "nominal", "scale": {"domain": ["m", "e"], "range": ["#000000", "#ee0000"]}, "legend": null}}}
]
}
]
}
